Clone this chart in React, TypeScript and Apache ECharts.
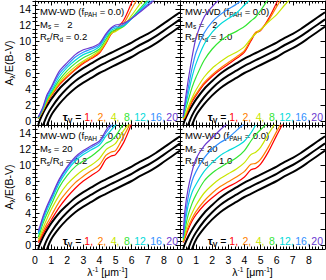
import React, { useEffect, useRef } from "react";
import * as echarts from "echarts";

// x positions (λ^-1, μm^-1) at which curves were read
const X_GRID = [0.2, 0.3, 0.5, 0.75, 1, 1.5, 2, 2.5, 3, 3.5, 4, 4.4, 4.7, 5, 5.5, 6, 6.5, 7, 7.5, 8, 8.5, 9];

const TAU_V = [1, 2, 4, 8, 12, 16, 20];
const TAU_COLORS = ["#ff0000", "#ff7f00", "#c8e600", "#33e633", "#00dada", "#2f8fff", "#6a38d0"];

const X_TICK_LABELS = [0, 1, 2, 3, 4, 5, 6, 7, 8];
const Y_TICK_LABELS = [0, 2, 4, 6, 8, 10, 12, 14];

// black reference curves (same in every panel)
const BLACK_1 = [-0.5, 0.1, 1.0, 1.9, 2.7, 4.0, 5.0, 5.9, 6.6, 7.2, 7.8, 8.2, 8.5, 8.8, 9.3, 9.8, 10.4, 10.9, 11.5, 12.2, 12.9, 13.6];
const BLACK_2 = [-2.5, -1.5, -0.5, 0.7, 1.6, 3.0, 4.1, 5.0, 5.7, 6.3, 6.9, 7.3, 7.6, 7.9, 8.4, 8.9, 9.5, 10.0, 10.6, 11.3, 12.0, 12.7];
const BLACK_3 = [-3.5, -2.8, -1.8, -0.5, 0.7, 2.1, 3.2, 4.1, 4.8, 5.4, 6.0, 6.4, 6.7, 7.0, 7.5, 8.0, 8.6, 9.1, 9.7, 10.4, 11.1, 11.8];

// Ms = 2, Rs/Rd = 0.2 (tau_V = 1,2,4,8,12,16,20)
const MS2_R02 = [
  [0.3, 0.6, 1.3, 2.3, 3.1, 4.5, 5.5, 6.4, 7.2, 7.8, 8.5, 9.7, 10.8, 11.4, 12.6, 14.8, 17.0],
  [0.3, 0.6, 1.3, 2.4, 3.2, 4.6, 5.6, 6.5, 7.3, 7.9, 8.6, 9.8, 10.9, 11.3, 12.2, 14.0, 15.8],
  [0.3, 0.7, 1.4, 2.5, 3.3, 4.8, 5.9, 6.8, 7.5, 8.1, 8.8, 9.9, 10.9, 11.2, 11.9, 13.2, 14.6, 16.0],
  [0.4, 0.7, 1.5, 2.7, 3.5, 5.1, 6.3, 7.2, 7.9, 8.4, 9.0, 10.2, 11.1, 11.4, 11.8, 12.9, 14.0, 15.2],
  [0.4, 0.8, 1.6, 2.9, 3.7, 5.5, 6.7, 7.6, 8.3, 8.7, 9.3, 10.5, 11.3, 11.6, 11.9, 12.8, 13.8, 14.9, 15.8],
  [0.5, 0.8, 1.7, 3.1, 4.0, 5.9, 7.0, 8.0, 8.6, 9.0, 9.5, 10.7, 11.5, 11.8, 12.0, 12.8, 13.7, 14.6, 15.5],
  [0.5, 0.9, 1.8, 3.3, 4.2, 6.2, 7.3, 8.3, 8.9, 9.2, 9.7, 10.9, 11.6, 12.0, 12.2, 12.8, 13.6, 14.4, 15.3],
];

// Ms = 2, Rs/Rd = 1.0
const MS2_R10 = [
  [0.2, 0.4, 1.3, 2.4, 3.2, 4.6, 5.6, 6.4, 7.1, 7.8, 8.6, 10.0, 11.0, 11.3, 12.8, 14.8, 17.0],
  [0.2, 0.5, 1.4, 2.6, 3.4, 4.8, 5.8, 6.6, 7.3, 8.0, 8.8, 10.2, 11.1, 11.4, 12.6, 14.3, 16.0],
  [0.3, 0.7, 1.7, 2.9, 3.9, 5.5, 6.6, 7.4, 8.1, 8.6, 9.3, 10.3, 10.9, 11.4, 12.4, 13.3, 14.5, 15.6],
  [0.4, 1.1, 2.5, 4.2, 5.5, 7.6, 9.0, 10.0, 10.7, 11.2, 11.8, 12.5, 13.0, 13.8, 15.3],
  [0.5, 1.5, 3.3, 5.5, 7.2, 9.6, 11.1, 12.1, 12.8, 13.5, 14.5, 15.3],
  [0.5, 1.8, 4.0, 6.6, 8.6, 11.0, 12.4, 13.3, 14.0, 14.6, 15.4],
  [0.6, 2.2, 5.0, 8.0, 10.4, 13.0, 14.3, 15.3],
];

// Ms = 20, Rs/Rd = 0.2
const MS20_R02 = [
  [0.3, 0.6, 1.4, 2.3, 3.1, 4.7, 6.0, 7.1, 8.0, 8.7, 9.4, 10.7, 11.1, 11.3, 12.8, 15.2],
  [0.5, 0.8, 1.7, 2.7, 3.6, 5.4, 6.7, 7.8, 8.6, 9.3, 10.0, 11.2, 11.6, 11.8, 13.6, 15.5],
  [0.7, 1.1, 2.1, 3.3, 4.4, 6.2, 7.6, 8.6, 9.4, 10.0, 10.8, 11.9, 12.3, 12.7, 14.3, 15.5],
  [1.0, 1.5, 2.7, 3.9, 5.0, 7.2, 8.7, 9.8, 10.5, 11.1, 11.9, 12.7, 13.0, 13.6, 15.2],
  [1.4, 1.9, 3.1, 4.4, 5.5, 7.7, 9.3, 10.5, 11.3, 11.9, 12.5, 13.6, 14.3, 15.0, 16.0],
  [1.6, 2.1, 3.4, 4.7, 5.8, 8.0, 9.6, 10.8, 11.6, 12.2, 12.8, 14.0, 14.8, 15.5],
  [1.8, 2.3, 3.6, 4.9, 6.0, 8.2, 9.8, 11.0, 11.8, 12.4, 13.0, 14.3, 15.2],
];

// Ms = 20, Rs/Rd = 1.0
const MS20_R10 = [
  [0.3, 0.8, 1.9, 3.0, 3.8, 5.0, 5.9, 6.7, 7.3, 7.8, 8.5, 9.4, 9.6, 10.1, 11.7, 13.7, 15.6],
  [0.4, 1.0, 2.2, 3.3, 4.2, 5.5, 6.5, 7.3, 7.9, 8.5, 9.2, 10.1, 10.2, 10.7, 12.3, 14.2, 16.0],
  [0.5, 1.3, 2.8, 4.0, 5.0, 6.5, 7.5, 8.3, 8.9, 9.5, 10.3, 11.3, 11.6, 12.2, 13.9, 15.5],
  [0.7, 1.8, 3.7, 5.2, 6.3, 8.0, 9.0, 9.7, 10.3, 10.9, 11.8, 13.0, 13.8, 14.4, 15.4],
  [0.9, 2.4, 4.9, 6.6, 7.6, 9.2, 10.3, 11.2, 11.8, 12.3, 13.0, 14.0, 15.0],
  [1.0, 3.0, 5.9, 8.0, 9.2, 10.9, 12.0, 12.8, 13.4, 14.3, 15.2],
  [1.2, 4.2, 7.0, 9.2, 10.8, 12.4, 13.4, 14.4, 15.3],
];

const PANEL_CURVES = [MS2_R02, MS2_R10, MS20_R02, MS20_R10];
const PANEL_MS = [" \u20072", " \u20072", " 20", " 20"];
const PANEL_RATIO = ["0.2", "1.0", "0.2", "1.0"];

const FONT = "'Liberation Sans', Arial, Helvetica, sans-serif";

export default function App() {
  const ref = useRef<HTMLDivElement>(null);

  useEffect(() => {
    if (!ref.current) return;
    const chart = echarts.init(ref.current, undefined, { renderer: "svg" });

    const grids = [
      { left: 35, top: 1, width: 145, height: 124 },
      { left: 180, top: 1, width: 145, height: 124 },
      { left: 35, top: 125, width: 145, height: 124 },
      { left: 180, top: 125, width: 145, height: 124 },
    ];

    const minorY: number[] = [];
    for (let v = -0.5; v <= 15.001; v += 0.5) {
      const r = Math.round(v * 10) / 10;
      if (Math.abs(r % 2) > 1e-6) minorY.push(r);
    }

    const xAxis: any[] = [];
    const yAxis: any[] = [];
    const series: any[] = [];
    const graphic: any[] = [];

    grids.forEach((g, gi) => {
      const isBottom = gi >= 2;
      const isLeft = gi % 2 === 0;
      ["bottom", "top"].forEach((pos) => {
        xAxis.push({
          type: "value",
          gridIndex: gi,
          position: pos,
          min: 0,
          max: 9,
          interval: 1,
          axisLine: { show: true, onZero: false, lineStyle: { color: "#000", width: 1 } },
          axisTick: { show: true, inside: true, length: 4.5, lineStyle: { color: "#000", width: 1 } },
          minorTick: { show: true, splitNumber: 5, length: 2.5, lineStyle: { color: "#000", width: 1 } },
          axisLabel: {
            show: pos === "bottom" && isBottom,
            customValues: X_TICK_LABELS,
            color: "#000",
            fontSize: 10.5,
            fontFamily: FONT,
            margin: 5,
          },
          splitLine: { show: false },
        });
      });
      ["left", "right"].forEach((pos) => {
        yAxis.push({
          type: "value",
          gridIndex: gi,
          position: pos,
          min: -0.5,
          max: 15,
          axisLine: { show: true, onZero: false, lineStyle: { color: "#000", width: 1 } },
          axisTick: { show: true, inside: true, length: 4.5, customValues: Y_TICK_LABELS, lineStyle: { color: "#000", width: 1 } },
          axisLabel: {
            show: pos === "left" && isLeft,
            customValues: Y_TICK_LABELS,
            color: "#000",
            fontSize: 10.5,
            fontFamily: FONT,
            margin: 4,
          },
          splitLine: { show: false },
        });
        yAxis.push({
          type: "value",
          gridIndex: gi,
          position: pos,
          offset: 0,
          min: -0.5,
          max: 15,
          axisLine: { show: false },
          axisTick: { show: true, inside: true, length: 2.5, customValues: minorY, lineStyle: { color: "#000", width: 1 } },
          axisLabel: { show: false },
          splitLine: { show: false },
        });
      });

      const xi = gi * 2;
      const yi = gi * 4;
      [BLACK_1, BLACK_2, BLACK_3].forEach((ys) => {
        series.push({
          type: "line",
          xAxisIndex: xi,
          yAxisIndex: yi,
          data: ys.map((y, i) => [X_GRID[i], y]),
          showSymbol: false,
          symbol: "none",
          smooth: 0.3,
          clip: true,
          silent: true,
          lineStyle: { color: "#000", width: 2 },
        });
      });
      PANEL_CURVES[gi].forEach((ys, ci) => {
        series.push({
          type: "line",
          name: "tau " + TAU_V[ci],
          xAxisIndex: xi,
          yAxisIndex: yi,
          data: ys.map((y, i) => [X_GRID[i], y]),
          showSymbol: false,
          symbol: "none",
          smooth: 0.3,
          clip: true,
          silent: true,
          lineStyle: { color: TAU_COLORS[ci], width: 1.2 },
        });
      });

      // annotation
      graphic.push({
        type: "text",
        left: g.left + 5,
        top: g.top + 6,
        silent: true,
        style: {
          text:
            "{t|MW-WD (f}{s|PAH}{t| = 0.0)}\n" +
            "{t|M}{s|s}{t| =" + PANEL_MS[gi] + "}\n" +
            "{t|R}{s|s}{t|/R}{s|d}{t| = " + PANEL_RATIO[gi] + "}",
          rich: {
            t: { fontSize: 9.5, lineHeight: 12.3, fontFamily: FONT, fill: "#000" },
            s: { fontSize: 6.5, lineHeight: 7, verticalAlign: "bottom", fontFamily: FONT, fill: "#000" },
          },
        },
      });

      // tau legend
      const rich: any = {
        tb: { fontSize: 11, fontWeight: "bold", fontFamily: FONT, fill: "#000", lineHeight: 13 },
        sb: { fontSize: 7, fontWeight: "bold", fontFamily: FONT, fill: "#000", lineHeight: 7, verticalAlign: "bottom" },
        t: { fontSize: 10.5, fontFamily: FONT, fill: "#000", lineHeight: 13 },
      };
      TAU_COLORS.forEach((c, i) => {
        rich["c" + i] = {
          fontSize: 10.5,
          fontFamily: FONT,
          fill: c,
          lineHeight: 13,
          padding: i < TAU_COLORS.length - 1 ? [0, 1.5, 0, 0] : 0,
        };
      });
      const parts = TAU_V.map((v, i) => {
        const sep = i === TAU_V.length - 1 ? "" : i < 3 ? ", " : ",";
        return "{c" + i + "|" + v + sep + "}";
      }).join("");
      graphic.push({
        type: "text",
        x: g.left + g.width - 2,
        y: g.top + g.height - 8,
        silent: true,
        style: {
          text: "{tb|τ}{sb|V}{t| = }" + parts,
          rich,
          align: "right",
          verticalAlign: "middle",
        },
      });

      if (isLeft) {
        graphic.push({
          type: "text",
          x: 9,
          y: g.top + g.height / 2,
          rotation: Math.PI / 2,
          silent: true,
          style: {
            text: "{t|A}{s|λ}{t|/E(B-V)}",
            rich: {
              t: { fontSize: 10.5, lineHeight: 13, fontFamily: FONT, fill: "#000" },
              s: { fontSize: 7, lineHeight: 7, verticalAlign: "bottom", fontFamily: FONT, fill: "#000" },
            },
            align: "center",
            verticalAlign: "middle",
          },
        });
      }
      if (isBottom) {
        graphic.push({
          type: "text",
          x: g.left + g.width / 2,
          y: 272,
          silent: true,
          style: {
            text: "{t|λ}{p|-1}{t| [μm}{p|-1}{t|]}",
            rich: {
              t: { fontSize: 10.5, lineHeight: 13, fontFamily: FONT, fill: "#000" },
              p: { fontSize: 6.5, lineHeight: 7, verticalAlign: "top", fontFamily: FONT, fill: "#000" },
            },
            align: "center",
            verticalAlign: "middle",
          },
        });
      }
    });

    chart.setOption({
      animation: false,
      backgroundColor: "#fff",
      grid: grids.map((g) => ({ ...g, containLabel: false })),
      xAxis,
      yAxis,
      series,
      graphic,
    });

    return () => chart.dispose();
  }, []);

  return (
    <div
      ref={ref}
      style={{ position: "absolute", left: 0, top: 0, width: 326, height: 280 }}
    />
  );
}
